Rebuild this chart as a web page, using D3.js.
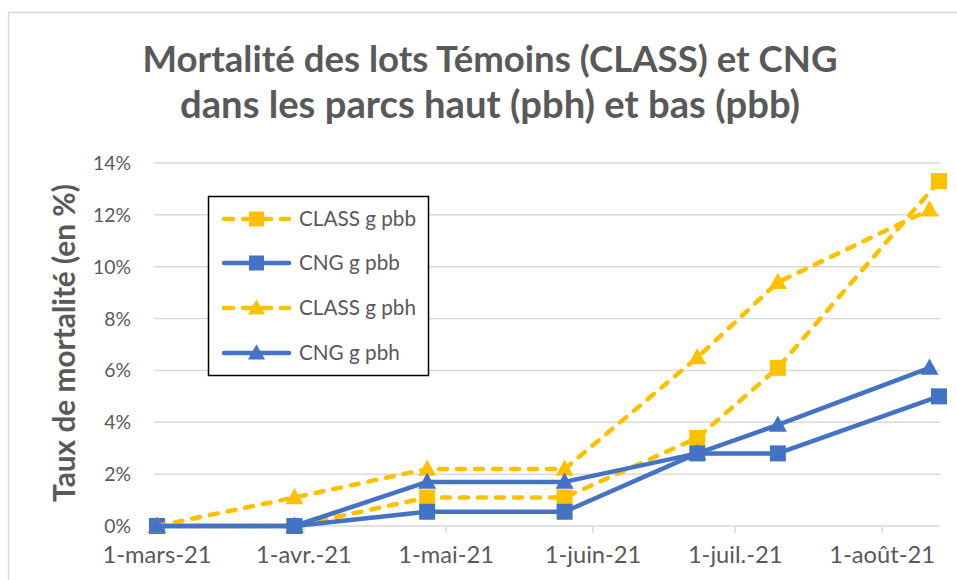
<!DOCTYPE html>
<html><head><meta charset="utf-8">
<script src="https://cdn.jsdelivr.net/npm/d3@7"></script>
<style>html,body{margin:0;padding:0;background:#fff;}svg{display:block;font-family:Lato,"Open Sans",sans-serif;}</style>
</head><body><svg id="c" width="957" height="580"></svg>
<script>
const titleLines = ["Mortalité des lots Témoins (CLASS) et CNG", "dans les parcs haut (pbh) et bas (pbb)"];
const yAxisTitle = "Taux de mortalité (en %)";
const datesPbb = ["2021-03-01","2021-03-30","2021-04-27","2021-05-26","2021-06-23","2021-07-10","2021-08-13"];
const datesPbh = ["2021-03-01","2021-03-30","2021-04-27","2021-05-26","2021-06-23","2021-07-10","2021-08-11"];
const classPbb = [0, 0, 1.1, 1.1, 3.4, 6.1, 13.3];
const cngPbb   = [0, 0, 0.55, 0.55, 2.8, 2.8, 5.0];
const classPbh = [0, 1.1, 2.2, 2.2, 6.5, 9.4, 12.2];
const cngPbh   = [0, 0, 1.7, 1.7, 2.8, 3.9, 6.1];
const yTicks = [0, 2, 4, 6, 8, 10, 12, 14];
const xTickLabels = ["1-mars-21","1-avr.-21","1-mai-21","1-juin-21","1-juil.-21","1-août-21"];
const seriesNames = ["CLASS g pbb","CNG g pbb","CLASS g pbh","CNG g pbh"];

const YEL = "#FFC000", BLUE = "#4472C4", TXT = "#595959", GRID = "#d9d9d9";
const parse = d3.timeParse("%Y-%m-%d");
const series = [
  {name: seriesNames[0], dates: datesPbb, vals: classPbb, color: YEL, dash: true, marker: "square"},
  {name: seriesNames[1], dates: datesPbb, vals: cngPbb, color: BLUE, dash: false, marker: "square"},
  {name: seriesNames[2], dates: datesPbh, vals: classPbh, color: YEL, dash: true, marker: "triangle"},
  {name: seriesNames[3], dates: datesPbh, vals: cngPbh, color: BLUE, dash: false, marker: "triangle"}
];

const svg = d3.select("#c");
svg.append("rect").attr("x", 0).attr("y", 0).attr("width", 957).attr("height", 580).attr("fill", "#fff");
svg.append("rect").attr("x", 8.5).attr("y", 12.5).attr("width", 1000).attr("height", 700)
  .attr("fill", "none").attr("stroke", GRID).attr("stroke-width", 1.5);

const x = d3.scaleTime().domain([parse("2021-03-01"), parse("2021-08-13")]).range([157, 939]);
const y = d3.scaleLinear().domain([0, 14]).range([526, 163]);

function fit(sel, w) {
  const l = sel.node().getComputedTextLength();
  const fs = parseFloat(sel.attr("font-size"));
  sel.attr("font-size", (fs * w / l).toFixed(2));
  return fs * w / l;
}

// title
const t1 = svg.append("text").attr("x", 490).attr("y", 72).attr("text-anchor", "middle")
  .attr("font-size", 32).attr("font-weight", "bold").attr("fill", TXT).text(titleLines[0]);
fit(t1, 695);
const t2 = svg.append("text").attr("x", 490).attr("y", 118).attr("text-anchor", "middle")
  .attr("font-size", 32).attr("font-weight", "bold").attr("fill", TXT).text(titleLines[1]);
fit(t2, 620);

// gridlines
svg.append("g").selectAll("line").data(yTicks).join("line")
  .attr("x1", 154).attr("x2", 940).attr("y1", d => y(d)).attr("y2", d => y(d))
  .attr("stroke", GRID).attr("stroke-width", 1.5);

// y tick labels
const yl = svg.append("g").selectAll("text").data(yTicks).join("text")
  .attr("x", 131).attr("y", d => y(d) + 7).attr("text-anchor", "end")
  .attr("font-size", 20).attr("fill", TXT).text(d => d + "%");
const yfs = fit(d3.select(yl.nodes()[7]), 38);
yl.attr("font-size", yfs.toFixed(2));

// x ticks
const months = d3.timeMonth.range(parse("2021-03-01"), parse("2021-08-02"));
svg.append("g").selectAll("line").data(months).join("line")
  .attr("x1", d => x(d)).attr("x2", d => x(d)).attr("y1", 526).attr("y2", 533)
  .attr("stroke", GRID).attr("stroke-width", 1.5);
const xl = svg.append("g").selectAll("text").data(months).join("text")
  .attr("x", d => x(d)).attr("y", 563).attr("text-anchor", "middle")
  .attr("font-size", 20).attr("fill", TXT).text((d, i) => xTickLabels[i]);
const xfs = fit(d3.select(xl.nodes()[0]), 109);
xl.attr("font-size", xfs.toFixed(2));

// y axis title
const yt = svg.append("text").attr("transform", "translate(75,343) rotate(-90)").attr("text-anchor", "middle")
  .attr("font-size", 24).attr("font-weight", "bold").attr("fill", TXT).text(yAxisTitle);
fit(yt, 318);

// markers
function drawMarker(g, type, cx, cy, color, s) {
  if (type === "square") {
    g.append("rect").attr("x", cx - s / 2).attr("y", cy - s / 2).attr("width", s).attr("height", s).attr("fill", color);
  } else {
    const h = s * 0.95;
    g.append("path").attr("d", `M${cx},${cy - h * 0.62}L${cx + s / 2 + 1},${cy + h * 0.45}L${cx - s / 2 - 1},${cy + h * 0.45}Z`).attr("fill", color);
  }
}

const line = d3.line().x(d => x(d.date)).y(d => y(d.v));
series.forEach(s => {
  const pts = s.vals.map((v, i) => ({date: parse(s.dates[i]), v}));
  const g = svg.append("g");
  g.append("path").datum(pts).attr("d", line).attr("fill", "none").attr("stroke", s.color)
    .attr("stroke-width", 4.5).attr("stroke-linejoin", "round")
    .attr("stroke-linecap", s.dash ? "round" : "butt")
    .attr("stroke-dasharray", s.dash ? "8,10" : null);
  pts.forEach(p => drawMarker(g, s.marker, x(p.date), y(p.v), s.color, 16));
});

// legend
const lg = svg.append("g");
lg.append("rect").attr("x", 208.5).attr("y", 196.5).attr("width", 220).attr("height", 179)
  .attr("fill", "#fff").attr("stroke", "#000").attr("stroke-width", 1.5);
const ly = [219, 263, 308, 353];
series.forEach((s, i) => {
  lg.append("line").attr("x1", 224).attr("x2", 289).attr("y1", ly[i]).attr("y2", ly[i])
    .attr("stroke", s.color).attr("stroke-width", 4.5)
    .attr("stroke-linecap", "round")
    .attr("stroke-dasharray", s.dash ? "9,10" : null);
  drawMarker(lg, s.marker, 256.5, ly[i], s.color, 15);
  const t = lg.append("text").attr("x", 299).attr("y", ly[i] + 7).attr("font-size", 21)
    .attr("fill", TXT).text(s.name);
  if (i === 0) fit(t, 117);
});
const lfs = lg.select("text").attr("font-size");
lg.selectAll("text").attr("font-size", lfs);
</script></body></html>
